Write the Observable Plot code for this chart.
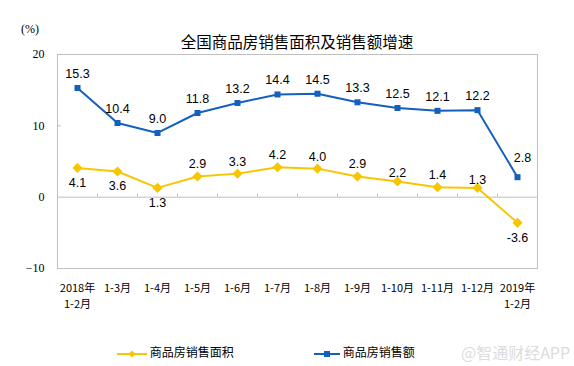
<!DOCTYPE html>
<html><head><meta charset="utf-8">
<script src="https://cdn.jsdelivr.net/npm/d3@7"></script>
<script src="https://cdn.jsdelivr.net/npm/@observablehq/plot@0.6"></script>
<style>
body{margin:0;background:#fff;}
#wrap{position:relative;width:574px;height:366px;overflow:hidden;font-family:"Noto Sans CJK SC",sans-serif;}
#chart{position:absolute;left:0;top:0;}
.abs{position:absolute;white-space:nowrap;}
</style></head>
<body><div id="wrap"><div id="chart"></div></div>
<script>
const categories = ["2018年\n1-2月","1-3月","1-4月","1-5月","1-6月","1-7月","1-8月","1-9月","1-10月","1-11月","1-12月","2019年\n1-2月"];
const salesArea = [4.1, 3.6, 1.3, 2.9, 3.3, 4.2, 4.0, 2.9, 2.2, 1.4, 1.3, -3.6];
const salesAmount = [15.3, 10.4, 9.0, 11.8, 13.2, 14.4, 14.5, 13.3, 12.5, 12.1, 12.2, 2.8];
const yTicks = [-10, 0, 10, 20];
const areaLabelBelow = [0, 1, 2, 11];
const areaLabelTight = [8, 10];

const blue = "#1560bd", yellow = "#f7c600", gray = "#bfbfbf";
const labelFont = "'Liberation Sans', Arial, sans-serif";
const idx = categories.map((_, i) => i);
const last = idx.length - 1;
const area = idx.map(i => ({i, v: salesArea[i]}));
const amount = idx.map(i => ({i, v: salesAmount[i]}));
const bounds = idx.slice(0, -1).map(i => i + 0.5);
const fmt = d => d.v.toFixed(1);

const plot = Plot.plot({
  width: 574, height: 366,
  marginTop: 54, marginBottom: 98, marginLeft: 57, marginRight: 37,
  x: {type: "linear", domain: [-0.5, categories.length - 0.5]},
  y: {domain: [-10, 20]},
  style: {fontFamily: "'Noto Sans CJK SC', sans-serif", background: "#fff"},
  marks: [
    Plot.axisY({ticks: yTicks, tickSize: 0, tickPadding: 13, fontSize: 12, fontFamily: "'Liberation Serif', serif", label: null, fill: "#000"}),
    Plot.axisX({ticks: idx, tickSize: 0, tickPadding: 12, tickFormat: i => categories[i], fontSize: 11, label: null, lineHeight: 1.45, textAnchor: "middle", fill: "#000"}),
    Plot.ruleY([0], {stroke: gray, strokeWidth: 1}),
    Plot.ruleX(bounds, {x: d => d, y1: 0, y2: 0, insetTop: -3, stroke: gray}),
    Plot.ruleY([10], {x1: -0.5, x2: -0.5, insetRight: -4, stroke: gray}),
    Plot.frame({stroke: gray}),
    Plot.line(amount, {x: "i", y: "v", stroke: blue, strokeWidth: 2}),
    Plot.dot(amount, {x: "i", y: "v", symbol: "square", r: 3.4, fill: blue}),
    Plot.line(area, {x: "i", y: "v", stroke: yellow, strokeWidth: 2}),
    Plot.dot(area, {x: "i", y: "v", symbol: "diamond2", r: 3.6, fill: yellow, stroke: yellow}),
    Plot.text(amount.filter(d => d.i !== last), {x: "i", y: "v", text: fmt, dy: -14, fontSize: 12.5, fontFamily: labelFont, fill: "#000"}),
    Plot.text(amount.filter(d => d.i === last), {x: "i", y: "v", text: fmt, dy: -19, dx: 5, fontSize: 12.5, fontFamily: labelFont, fill: "#000"}),
    Plot.text(area.filter(d => !areaLabelBelow.includes(d.i) && !areaLabelTight.includes(d.i)), {x: "i", y: "v", text: fmt, dy: -12, fontSize: 12.5, fontFamily: labelFont, fill: "#000"}),
    Plot.text(area.filter(d => areaLabelTight.includes(d.i)), {x: "i", y: "v", text: fmt, dy: -8, fontSize: 12.5, fontFamily: labelFont, fill: "#000"}),
    Plot.text(area.filter(d => areaLabelBelow.includes(d.i)), {x: "i", y: "v", text: fmt, dy: 15, fontSize: 12.5, fontFamily: labelFont, fill: "#000"})
  ]
});
document.getElementById("chart").appendChild(plot);

const wrap = document.getElementById("wrap");
function addDiv(html, style){ const d = document.createElement("div"); d.className = "abs"; d.innerHTML = html; Object.assign(d.style, style); wrap.appendChild(d); }
addDiv("全国商品房销售面积及销售额增速", {left: "0px", width: "594px", textAlign: "center", top: "30px", fontSize: "15.5px", color: "#000"});
addDiv("(%)", {left: "21px", top: "22px", fontSize: "12px", color: "#000", fontFamily: "'Liberation Serif', serif"});
addDiv('<svg width="30" height="10" style="vertical-align:middle"><line x1="0" y1="5" x2="30" y2="5" stroke="'+yellow+'" stroke-width="2"/><path d="M15 1.5L18.5 5L15 8.5L11.5 5Z" fill="'+yellow+'"/></svg> 商品房销售面积', {left: "117px", top: "343px", fontSize: "12px", color: "#000"});
addDiv('<svg width="26" height="10" style="vertical-align:middle"><line x1="0" y1="5" x2="26" y2="5" stroke="'+blue+'" stroke-width="2"/><rect x="10" y="2" width="6" height="6" fill="'+blue+'"/></svg> 商品房销售额', {left: "314px", top: "343px", fontSize: "12px", color: "#000"});
addDiv("@智通财经APP", {left: "461px", top: "340px", fontSize: "16px", color: "#dcdcdc"});
</script></body></html>
